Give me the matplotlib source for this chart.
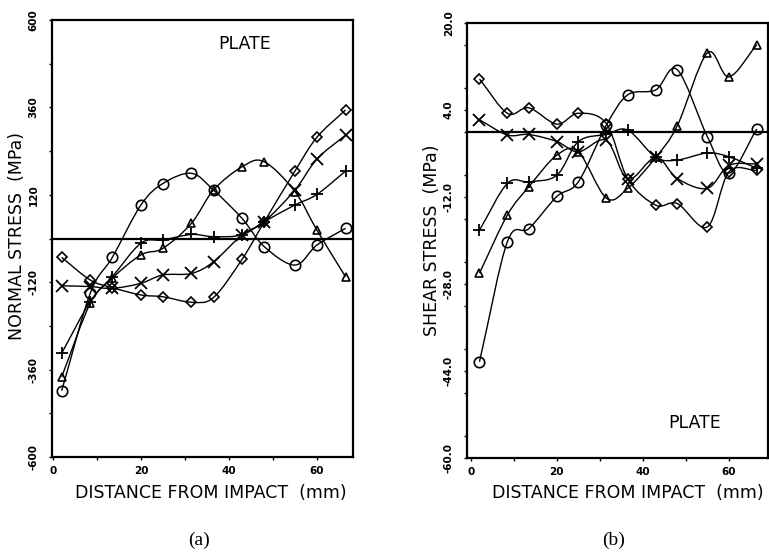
import numpy as np
import matplotlib
matplotlib.use("Agg")
import matplotlib.pyplot as plt
from matplotlib.path import Path
from matplotlib.patches import PathPatch
from matplotlib.ticker import MultipleLocator, FixedLocator

# ---------------- data ----------------
distance_mm = [2, 8.5, 13.5, 20, 25, 31.5, 36.5, 43, 48, 55, 60, 66.5]

# (a) normal stress, MPa
normal_circle = [-418, -150, -52, 92, 151, 179, 133, 55, -22, -73, -18, 28]
normal_triangle = [-380, -178, -109, -45, -27, 42, 133, 197, 211, 129, 23, -105]
normal_plus = [-315, -173, -105, -13, -4, 11, 5, 10, 46, 92, 121, 185]
normal_cross = [-130, -132, -137, -123, -100, -96, -64, 10, 46, 133, 218, 284]
normal_diamond = [-52, -114, -135, -155, -160, -175, -162, -57, 45, 185, 278, 353]

# (b) shear stress, MPa
shear_circle = [-42.3, -20.2, -17.8, -11.9, -9.2, 1.2, 6.8, 7.7, 11.4, -0.9, -7.6, 0.5]
shear_triangle = [-26.0, -15.3, -10.1, -4.3, -3.7, -12.2, -10.4, -4.7, 1.1, 14.5, 10.1, 16.0]
shear_plus = [-18.1, -9.5, -9.2, -8.0, -1.8, -0.5, 0.3, -4.7, -5.2, -3.9, -4.6, -6.7]
shear_cross = [2.2, -0.6, -0.5, -1.8, -3.7, -1.6, -8.7, -4.7, -8.6, -10.4, -6.2, -5.9]
shear_diamond = [9.7, 3.4, 4.4, 1.4, 3.4, 1.5, -8.7, -13.5, -13.2, -17.5, -7.4, -7.1]

normal_ticks = [-600, -360, -120, 120, 360, 600]
normal_tick_labels = ["-600", "-360", "-120", "120", "360", "600"]
shear_ticks = [-60, -44, -28, -12, 4, 20]
shear_tick_labels = ["-60.0", "-44.0", "-28.0", "-12.0", "4.0", "20.0"]
x_ticks = [0, 20, 40, 60]

markers = {"circle": dict(marker="o", ms=7.5),
           "triangle": dict(marker="^", ms=5.5),
           "plus": dict(marker="+", ms=8, mew=1.3),
           "cross": dict(marker="x", ms=8, mew=1.3),
           "diamond": dict(marker="D", ms=5)}


def smooth_curve(ax, xs, ys, lw=1.0):
    xs = np.asarray(xs, float)
    ys = np.asarray(ys, float)
    pts = np.column_stack([xs, ys])
    n = len(pts)
    tang = np.zeros_like(pts)
    tang[1:-1] = (pts[2:] - pts[:-2]) / 2.0
    tang[0] = pts[1] - pts[0]
    tang[-1] = pts[-1] - pts[-2]
    verts = [tuple(pts[0])]
    codes = [Path.MOVETO]
    for i in range(n - 1):
        c1 = pts[i] + tang[i] / 3.0
        c2 = pts[i + 1] - tang[i + 1] / 3.0
        verts += [tuple(c1), tuple(c2), tuple(pts[i + 1])]
        codes += [Path.CURVE4] * 3
    ax.add_patch(PathPatch(Path(verts, codes), fill=False, ec="black", lw=lw))


def draw_series(ax, xs, series):
    for key, ys in series:
        smooth_curve(ax, xs, ys)
        kw = dict(markers[key])
        mew = kw.pop("mew", 1.2)
        ax.plot(xs, ys, linestyle="none", color="black", mfc="none",
                mec="black", mew=mew, zorder=3, **kw)


def style_axes(ax, yticks, ylabels, ylim, minor_y, xlim):
    ax.set_xlim(*xlim)
    ax.set_ylim(*ylim)
    for s in ax.spines.values():
        s.set_linewidth(1.6)
    ax.axhline(0, color="black", lw=1.6, zorder=2)
    ax.yaxis.set_major_locator(FixedLocator(yticks))
    ax.set_yticklabels(ylabels, rotation=90, va="center",
                       fontsize=7.5, fontweight="bold")
    ax.yaxis.set_minor_locator(MultipleLocator(minor_y))
    ax.xaxis.set_major_locator(FixedLocator(x_ticks))
    ax.set_xticklabels([str(t) for t in x_ticks], fontsize=7.5, fontweight="bold")
    ax.xaxis.set_minor_locator(MultipleLocator(10))
    ax.tick_params(which="both", direction="out", length=2.5, width=1.0,
                   top=False, right=False)
    ax.tick_params(axis="y", pad=7)
    ax.tick_params(axis="x", pad=4)


fig = plt.figure(figsize=(7.69, 5.55), dpi=100)

# ---------- (a) ----------
ax1 = fig.add_axes([52 / 769, 98 / 555, 301 / 769, 437 / 555])
draw_series(ax1, distance_mm, [("circle", normal_circle),
                               ("triangle", normal_triangle),
                               ("plus", normal_plus),
                               ("cross", normal_cross),
                               ("diamond", normal_diamond)])
style_axes(ax1, normal_ticks, normal_tick_labels, (-600, 600), 120, (-0.2, 68.2))
ax1.text(0.64, 0.945, "PLATE", transform=ax1.transAxes, ha="center",
         va="center", fontsize=12.5)

# ---------- (b) ----------
ax2 = fig.add_axes([467 / 769, 97 / 555, 301 / 769, 435 / 555])
draw_series(ax2, distance_mm, [("circle", shear_circle),
                               ("triangle", shear_triangle),
                               ("plus", shear_plus),
                               ("cross", shear_cross),
                               ("diamond", shear_diamond)])
style_axes(ax2, shear_ticks, shear_tick_labels, (-60, 20), 8, (-0.9, 69.1))
ax2.text(0.755, 0.08, "PLATE", transform=ax2.transAxes, ha="center",
         va="center", fontsize=12.5)

# axis labels
fig.text(17 / 769, 1 - 236 / 555, "NORMAL STRESS  (MPa)", rotation=90,
         ha="center", va="center", fontsize=12.5)
fig.text(211 / 769, 1 - 493 / 555, "DISTANCE FROM IMPACT  (mm)",
         ha="center", va="center", fontsize=12.5)
fig.text(432 / 769, 1 - 240 / 555, "SHEAR STRESS  (MPa)", rotation=90,
         ha="center", va="center", fontsize=12.5)
fig.text(628 / 769, 1 - 493 / 555, "DISTANCE FROM IMPACT  (mm)",
         ha="center", va="center", fontsize=12.5)

fig.text(199 / 769, 1 - 540 / 555, "(a)", ha="center", va="center",
         fontsize=14, family="Liberation Serif")
fig.text(614 / 769, 1 - 540 / 555, "(b)", ha="center", va="center",
         fontsize=14, family="Liberation Serif")

fig.savefig("out.png", dpi=100)
